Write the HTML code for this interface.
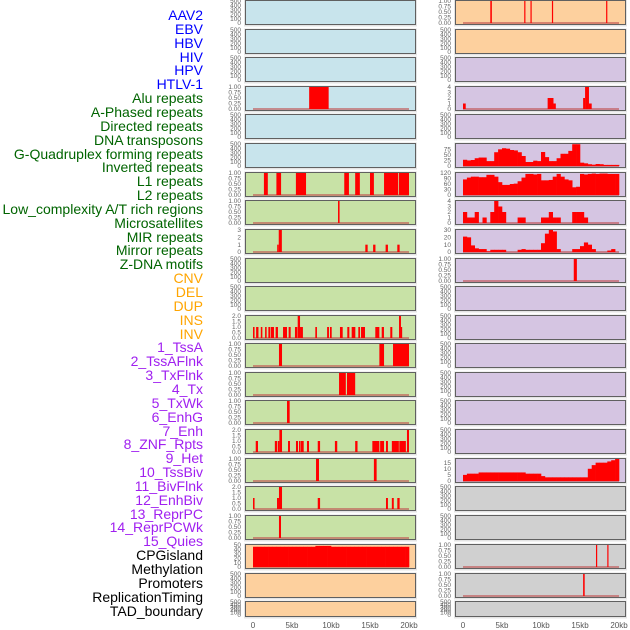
<!DOCTYPE html>
<html><head><meta charset="utf-8"><style>
body{margin:0;background:#fff;width:630px;height:630px;overflow:hidden;font-family:"Liberation Sans",sans-serif}
#lab{position:absolute;left:0;top:0;width:203px}
.l{position:absolute;right:0;font-size:14px;line-height:14px;white-space:nowrap}
svg{position:absolute;left:0;top:0}
</style></head><body>
<div id="lab"></div>
<svg id="c" width="630" height="630"></svg>
<script>
const labelNames=["AAV2","EBV","HBV","HIV","HPV","HTLV-1","Alu repeats","A-Phased repeats","Directed repeats","DNA transposons","G-Quadruplex forming repeats","Inverted repeats","L1 repeats","L2 repeats","Low_complexity A/T rich regions","Microsatellites","MIR repeats","Mirror repeats","Z-DNA motifs","CNV","DEL","DUP","INS","INV","1_TssA","2_TssAFlnk","3_TxFlnk","4_Tx","5_TxWk","6_EnhG","7_Enh","8_ZNF_Rpts","9_Het","10_TssBiv","11_BivFlnk","12_EnhBiv","13_ReprPC","14_ReprPCWk","15_Quies","CPGisland","Methylation","Promoters","ReplicationTiming","TAD_boundary"];
const labelGroups=[6,13,5,15,5];
const groupColors=["#0000ff","#006400","#ffa500","#a020f0","#000000"];
const xTicks=[0,5000,10000,15000,20000];
const xTickLabels=["0","5kb","10kb","15kb","20kb"];
const leftAlu=[[7.2,9.7,1]];
const leftL1=[[1.4,1.9,1],[3.0,3.6,1],[5.5,6.8,1],[11.7,12.3,1],[13.1,13.7,1],[15.0,15.5,1],[16.8,18.6,1],[18.7,20.0,1]];
const leftLowComp=[[10.9,11.1,1]];
const leftMicro=[[3.1,3.3,1],[3.3,3.7,3],[14.4,14.7,1],[15.4,15.7,1],[17.0,17.3,1],[18.5,18.8,1]];
const leftINV=[[0,0.2,1],[0.4,0.7,1],[1.0,1.2,1],[1.55,1.75,1],[1.97,2.18,1],[2.26,2.69,1],[2.9,3.2,1],[3.85,4.36,1],[4.57,4.83,1],[5.38,5.68,1],[5.73,6.03,2],[6.03,6.4,1],[7.99,8.2,1],[9.5,9.74,1],[9.87,10.09,1],[11.15,11.5,1],[12.09,12.35,1],[12.65,13.12,1],[13.5,13.72,1],[13.85,14.36,1],[15.68,16.2,1],[16.5,16.79,1],[17.6,17.86,1],[18.72,18.97,2],[18.97,19.1,1]];
const leftTssA=[[3.33,3.72,1],[16.2,16.8,1],[17.95,20.0,1]];
const leftTssAFlnk=[[11.03,11.9,1],[12.05,13.1,1]];
const leftTxFlnk=[[4.36,4.7,1]];
const leftTx=[[0.35,0.64,1],[2.8,3.08,1],[3.17,3.38,1],[3.38,3.72,2],[4.49,4.74,1],[5.51,5.77,1],[5.9,6.1,1],[6.15,6.5,1],[6.92,7.18,1],[8.3,8.6,1],[10.5,10.8,1],[13.1,13.4,1],[15.3,16.2,1],[16.3,16.8,1],[17.05,17.3,1],[17.8,18.7,1],[18.76,19.6,1],[19.74,20.0,2]];
const leftTxWk=[[8.08,8.46,1],[15.5,15.85,1]];
const leftEnhG=[[0,0.2,1],[3.08,3.33,1],[3.33,3.72,2],[8.3,8.6,1],[17.05,17.3,1],[17.8,18.05,1],[18.5,18.8,1]];
const leftEnh=[[3.33,3.59,1]];
const rightAAV2=[[3.5,3.7,1],[7.85,8.0,1],[8.65,8.8,1],[11.4,11.55,1],[18.35,18.5,1]];
const rightAlu=[[0,0.35,1],[10.85,11.6,2],[11.6,11.9,1],[15.4,15.65,2],[15.65,16.15,4],[16.15,16.5,1]];
const rightLowComp9=[[14.2,14.6,1]];
const rightCpg=[[17.05,17.2,1],[18.5,18.65,1]];
const rightPromoters=[[15.4,15.6,1]];
const gquadBins=[28,25,27,35,38,38,22,22,62,75,80,78,72,70,62,45,18,18,24,22,63,40,22,22,35,55,55,68,98,98,15,12,8,6,9,8,5,5,5,5];
const l1Bins=[85,95,100,100,97,97,110,110,100,70,55,55,60,62,75,95,115,115,112,115,80,80,82,100,115,100,85,80,42,45,115,112,115,117,115,117,117,115,115,115];
const lowCompBins=[2,1,1,2,0,1,0,2,4,3,2,0,0,0,1,1,0,0,0,0,1,1,2,1,1,0,0,0,2,2,2,1,0,0,0,0,0,0,0,0];
const mirBins=[21,20,9,5,4,4,1,3,3,3,3,0,0,0,3,4,3,3,3,3,12,25,30,28,4,0,0,0,4,4,8,13,10,4,0,0,0,2,4,0];
const hetBins=[5,6,6,6,7,7,7,7,7,7,7,7,7,7,7,7,6,6,6,6,4,3,3,3,3,3,3,3,3,3,3,3,10,13,15,15,15,16,17,18];
const cpgBins=[46,46,46,46,46,46,46,46,46,46,46,46,46,46,46,46,48,48,48,48,46,46,46,46,46,46,46,46,46,46,46,46,46,46,46,46,46,46,46,46];

const E={t:"empty",ticks:["0","100","200","300","400","500"],max:500};
function B(d){return{t:"seg",d:d,ticks:["0.00","0.25","0.50","0.75","1.00"],max:1};}
function S(d,ticks,max){return{t:"seg",d:d,ticks:ticks,max:max};}
function H(d,ticks,max){return{t:"hist",d:d,ticks:ticks,max:max};}
const T2=["0.0","0.5","1.0","1.5","2.0"];
const leftCol=[E,E,E,B(leftAlu),E,E,B(leftL1),B(leftLowComp),S(leftMicro,["0","1","2","3"],3),E,E,S(leftINV,T2,2),B(leftTssA),B(leftTssAFlnk),B(leftTxFlnk),S(leftTx,T2,2),B(leftTxWk),S(leftEnhG,T2,2),B(leftEnh),H(cpgBins,["0","10","20","30","40","50"],50),E,E];
const rightCol=[B(rightAAV2),E,E,S(rightAlu,["0","1","2","3","4"],4),E,H(gquadBins,["0","25","50","75"],99),H(l1Bins,["0","30","60","90","120"],120),H(lowCompBins,["0","1","2","3","4"],4),H(mirBins,["0","10","20","30"],30),B(rightLowComp9),E,E,E,E,E,E,H(hetBins,["0","5","10","15"],18),E,E,B(rightCpg),B(rightPromoters),E];
const leftFill=i=>i<6?"#c8e4ec":(i<19?"#c8e2a6":"#fdd09e");
const rightFill=i=>i<2?"#fdd09e":(i<17?"#d5c5e2":"#d0d0d0");
const rowTops=[0,29,57,86,114,143,172,200,229,258,286,315,343,372,400,429,458,486,515,544,573,601];

const lab=document.getElementById('lab');
let k=0;
labelGroups.forEach((n,g)=>{for(let j=0;j<n;j++){const d=document.createElement('div');


d.className='l';d.style.color=groupColors[g];d.style.top=(8+k*13.85)+'px';d.textContent=labelNames[k];lab.appendChild(d);k++;}});

const svg=document.getElementById('c');const NS="http://www.w3.org/2000/svg";
function el(t,a,p){const e=document.createElementNS(NS,t);for(const q in a)e.setAttribute(q,a[q]);(p||svg).appendChild(e);return e;}
function drawCol(col,x0,fillFn,cname){
  const xs=kb=>x0+8+kb*7.8;
  col.forEach((p,i)=>{
    const top=rowTops[i];const h=(i===21?16:25);const bot=top+h;
    const g=el('g',{});
    
    
    el('rect',{x:x0-1,y:top-0.5,width:173,height:h+2,fill:"#e4e4e4"},g);
    el('rect',{x:x0+0.5,y:top+0.5,width:170,height:h-1,fill:fillFn(i),stroke:"#606060","stroke-width":1},g);
    const ys=v=>bot-2-v/p.max*(h-3);
    p.ticks.forEach((t,j)=>{const v=p.t==="empty"?j*100:parseFloat(t);
      const tx=el('text',{x:x0-4,y:ys(v)+2.2,"font-size":6.5,"text-anchor":"end",fill:"#666"},g);tx.textContent=t;});
    if(p.t!=="empty"){
      el('line',{x1:xs(0),x2:xs(20),y1:bot-2,y2:bot-2,stroke:"#c05050","stroke-width":1.5,opacity:0.8},g);
      if(p.t==="seg"){p.d.forEach(s=>{const r=el('rect',{x:xs(s[0]),y:ys(s[2]),width:Math.max(1.2,xs(s[1])-xs(s[0])),height:bot-2-ys(s[2]),fill:"#ff0000"},g);
        });}
      else{p.d.forEach((v,b)=>{if(v<=0)return;const r=el('rect',{x:xs(b*0.5),y:ys(v),width:xs(0.5)-xs(0)+0.3,height:bot-2-ys(v),fill:"#ff0000"},g);
        });}
    }
  });
  xTicks.forEach((t,j)=>{const tx=el('text',{x:xs(t/1000),y:628,"font-size":8,"text-anchor":"middle",fill:"#555"});
    tx.textContent=xTickLabels[j];});
}
drawCol(leftCol,245,leftFill,'left');
drawCol(rightCol,455,rightFill,'right');
</script>
</body></html>
